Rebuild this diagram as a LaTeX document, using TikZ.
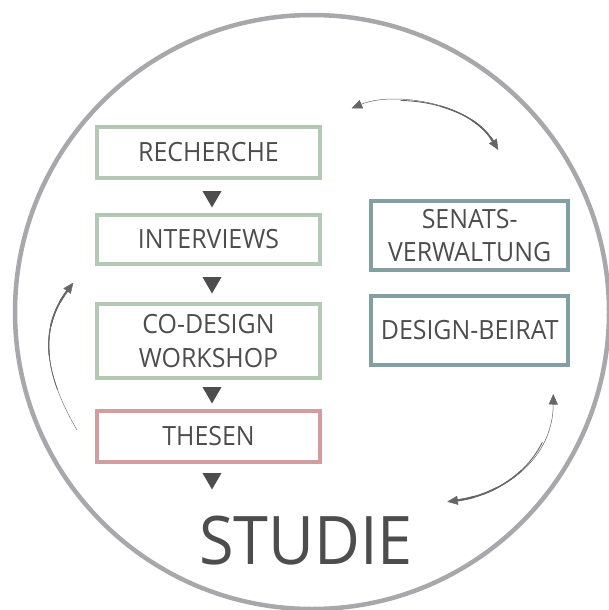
\documentclass[tikz,border=0pt]{standalone}
\usepackage{fontspec}
\setmainfont{Open Sans}[FakeStretch=0.94]
\usetikzlibrary{arrows.meta,shapes.geometric}

\definecolor{ringgray}{HTML}{A8A8AC}
\definecolor{sage}{HTML}{B3C9B4}
\definecolor{rose}{HTML}{D39C9D}
\definecolor{slate}{HTML}{829FA4}
\definecolor{ink}{HTML}{4D4D4D}
\definecolor{arrowgray}{HTML}{666666}

\tikzset{cyclehead/.tip={Triangle[length=10.5pt,width=9pt]}}

\begin{document}
\begin{tikzpicture}[x=1pt,y=-1pt,
  stage/.style={draw=#1, line width=4pt, inner sep=0pt, text=ink, align=center,
    font=\fontsize{26.5}{33.3}\selectfont},
  leftcol/.style={minimum width=223pt},
  rightcol/.style={minimum width=196.5pt},
  drop/.style={regular polygon, regular polygon sides=3, shape border rotate=180,
    fill=ink, inner sep=0pt, minimum size=22pt},
  cycle arrow/.style={draw=arrowgray, line width=0.5pt},
]
\useasboundingbox (0,0) rectangle (608,610);

% outer ring
\draw[ringgray, line width=4.5pt] (312,312) circle[radius=297pt];

% process column
\node[stage=sage, leftcol, minimum height=51pt] (recherche) at (208.5,152.5) {RECHERCHE};
\node[stage=sage, leftcol, minimum height=49pt] (interviews) at (208.5,239.5) {INTERVIEWS};
\node[stage=sage, leftcol, minimum height=74pt] (codesign) at (208.5,341) {CO-DESIGN\\WORKSHOP};
\node[stage=rose, leftcol, minimum height=51pt] (thesen) at (208.5,436.5) {THESEN};

\node[drop] (d1) at (212,196.5) {};
\node[drop] (d2) at (212,282.5) {};
\node[drop] (d3) at (212,392.5) {};
\node[drop] (d4) at (212,478.5) {};

% partners
\node[stage=slate, rightcol, minimum height=68.5pt] (senat) at (469.7,235.5) {SENATS-\\VERWALTUNG};
\node[stage=slate, rightcol, minimum height=69pt] (beirat) at (469.7,330.5) {DESIGN-BEIRAT};

% title
\node[inner sep=0pt, text=ink, font=\fontsize{67}{67}\selectfont] (studie) at (306,541) {STUDIE};

% cycle arrows (thin end first, widening toward the far end)
\coordinate (topA) at (351.7,108.3);
\coordinate (topB) at (498.3,150);
\draw[cycle arrow, cyclehead-cyclehead] (topA) .. controls (390,92) and (468,100) .. (topB);
\foreach \w/\p in {0.9/5950,1.3/5910,1.7/5875,2.1/5850}
  \draw[arrowgray, line width=\w pt, dash pattern=on 3000pt off 3000pt, dash phase=\p pt,
    shorten >=10pt] (topA) .. controls (390,92) and (468,100) .. (topB);

\coordinate (leftA) at (77,430);
\coordinate (leftB) at (73.3,282.7);
\draw[cycle arrow, line width=0.4pt, -cyclehead] (leftA) .. controls (45,375) and (38,330) .. (leftB);
\foreach \w/\p in {0.8/5955,1.2/5920,1.6/5890,2.0/5865}
  \draw[arrowgray, line width=\w pt, dash pattern=on 3000pt off 3000pt, dash phase=\p pt,
    shorten >=10pt] (leftA) .. controls (45,375) and (38,330) .. (leftB);

\coordinate (brA) at (553.3,394);
\coordinate (brB) at (447.3,501.7);
\draw[cycle arrow, cyclehead-cyclehead] (brA) .. controls (553,458) and (505,494) .. (brB);
\foreach \w/\p in {0.9/5950,1.3/5915,1.7/5885,2.1/5860}
  \draw[arrowgray, line width=\w pt, dash pattern=on 3000pt off 3000pt, dash phase=\p pt,
    shorten >=10pt] (brA) .. controls (553,458) and (505,494) .. (brB);
\end{tikzpicture}
\end{document}
